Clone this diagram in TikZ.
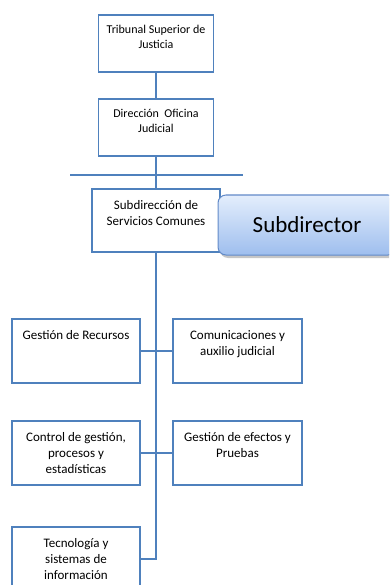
\documentclass[tikz,border=0pt]{standalone}
\usepackage{fontspec}
\setmainfont{Carlito}
\usetikzlibrary{shadows}
\definecolor{orgline}{RGB}{79,129,189}
\definecolor{subtop}{RGB}{228,238,252}
\definecolor{subbot}{RGB}{158,190,238}
\definecolor{subedge}{RGB}{98,138,200}
\begin{document}
\begin{tikzpicture}[x=1pt, y=-1pt,
    unit/.style={draw=orgline, line width=1.8pt, minimum width=#1, inner sep=0pt, minimum height=64pt},
    unit/.default=128pt,
    top/.style={draw=orgline, line width=1.8pt, minimum width=115pt, inner sep=0pt, minimum height=57pt},
    lbl/.style={anchor=north, align=center, inner sep=0pt, yshift=-12pt, font=\fontsize{13}{16}\selectfont},
    toplbl/.style={anchor=north, align=center, inner sep=0pt, yshift=-11pt, font=\fontsize{12}{14.5}\selectfont},
    link/.style={draw=orgline, line width=1.2pt}]
    \useasboundingbox (0,0) rectangle (389,585);
    \clip (0,0) rectangle (389,585);

    \node[top, label={[toplbl]north:Tribunal Superior de\\Justicia}] (tsj) at (156,43.5) {};
    \node[top, label={[toplbl]north:Dirección~ Oficina\\Judicial}] (dof) at (156,127.5) {};
    \node[unit, minimum height=63pt, label={[lbl]north:Subdirección de\\Servicios Comunes}] (sdsc) at (156,220.5) {};
    \node[draw=subedge, line width=1pt, rounded corners=8pt, top color=subtop, bottom color=subbot,
        drop shadow={shadow xshift=2pt, shadow yshift=-3pt, opacity=0.45},
        minimum width=178pt, minimum height=60pt, font=\fontsize{23}{26}\selectfont] (subdir) at (307,225) {Subdirector};

    \node[unit, label={[lbl]north:Gestión de Recursos}] (gr) at (76,351) {};
    \node[unit=129pt, label={[lbl]north:Comunicaciones y\\auxilio judicial}] (caj) at (237.5,351) {};
    \node[unit, label={[lbl]north:Control de gestión,\\procesos y\\estadísticas}] (cgp) at (76,453) {};
    \node[unit=129pt, label={[lbl]north:Gestión de efectos y\\Pruebas}] (gep) at (237.5,453) {};
    \node[unit, label={[lbl]north:Tecnología y\\sistemas de\\información}] (tsi) at (76,559) {};

    \coordinate (hl) at (70,175);
    \coordinate (hr) at (243,175);

    \draw[link] (hl) -- (hr);
    \draw[link] (tsj) -- (dof);
    \draw[link] (dof) -- (sdsc);
    \draw[link] (sdsc.south) -- (sdsc.south |- tsi.east) -- (tsi.east);
    \draw[link] (gr.east) -- (caj.west);
    \draw[link] (cgp.east) -- (gep.west);
\end{tikzpicture}
\end{document}
